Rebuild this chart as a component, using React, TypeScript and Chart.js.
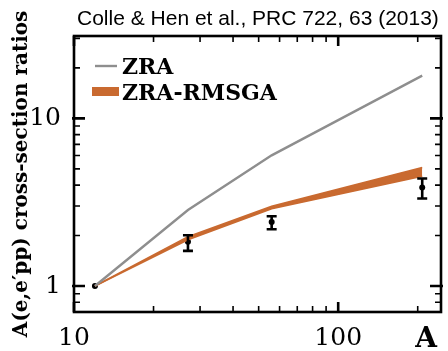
import { useEffect, useRef } from 'react';
import { Chart, registerables } from 'chart.js';

Chart.register(...registerables);

// ---- data ----
const massNumbers = [12, 27, 56, 208];
const zraValues = [1, 2.84, 6.02, 18.0];
const rmsgaLower = [1, 1.89, 2.89, 4.52];
const rmsgaUpper = [1, 1.97, 2.99, 5.09];
const dataValues = [1, 1.84, 2.41, 3.87];
const dataErrLow = [1, 1.62, 2.18, 3.33];
const dataErrHigh = [1, 2.01, 2.61, 4.38];

const xTickValues = [10, 100];
const yTickValues = [1, 10];
const xMinorTicks = [20, 30, 40, 50, 60, 70, 80, 90, 200];
const yMinorTicks = [0.8, 0.9, 2, 3, 4, 5, 6, 7, 8, 9, 20, 30];

const legendLabels = ['ZRA', 'ZRA-RMSGA'];
const titleText = 'Colle & Hen et al., PRC 722, 63 (2013)';
const xTitle = 'A';
const yTitle = 'A(e,e\u2032pp) cross-section ratios';

const GREY = '#8e8e8e';
const ORANGE = '#c96a30';

const pts = (ys: number[]) => massNumbers.map((x, i) => ({ x, y: ys[i] }));

const decorPlugin = {
  id: 'decor',
  afterDatasetsDraw(chart: any) {
    const { ctx, scales } = chart;
    const xs = scales.x;
    const ys = scales.y;
    ctx.save();
    // error bars
    ctx.strokeStyle = '#000';
    ctx.lineWidth = 2.6;
    massNumbers.forEach((a, i) => {
      if (dataErrHigh[i] === dataErrLow[i]) return;
      const px = xs.getPixelForValue(a);
      const yl = ys.getPixelForValue(dataErrLow[i]);
      const yh = ys.getPixelForValue(dataErrHigh[i]);
      ctx.beginPath();
      ctx.moveTo(px, yl);
      ctx.lineTo(px, yh);
      ctx.moveTo(px - 5, yl);
      ctx.lineTo(px + 5, yl);
      ctx.moveTo(px - 5, yh);
      ctx.lineTo(px + 5, yh);
      ctx.stroke();
    });
    ctx.restore();
  },
  afterDraw(chart: any) {
    const { ctx, chartArea, scales } = chart;
    const { left, right, top, bottom } = chartArea;
    const xs = scales.x;
    const ys = scales.y;
    ctx.save();
    ctx.strokeStyle = '#000';
    ctx.lineWidth = 2.6;
    ctx.strokeRect(left, top, right - left, bottom - top);
    // ticks
    const drawX = (v: number, len: number, w: number) => {
      const px = xs.getPixelForValue(v);
      ctx.lineWidth = w;
      ctx.beginPath();
      ctx.moveTo(px, bottom);
      ctx.lineTo(px, bottom - len);
      ctx.moveTo(px, top);
      ctx.lineTo(px, top + len);
      ctx.stroke();
    };
    const drawY = (v: number, len: number, w: number, ext: number) => {
      const py = ys.getPixelForValue(v);
      if (py < top + 1 || py > bottom - 1) return;
      ctx.lineWidth = w;
      ctx.beginPath();
      ctx.moveTo(left - ext, py);
      ctx.lineTo(left + len, py);
      ctx.moveTo(right + ext, py);
      ctx.lineTo(right - len, py);
      ctx.stroke();
    };
    xMinorTicks.forEach((v) => drawX(v, 6, 1.6));
    xTickValues.forEach((v) => drawX(v, 10, 2.6));
    yMinorTicks.forEach((v) => drawY(v, 6, 1.6, 0));
    yTickValues.forEach((v) => drawY(v, 11, 2.6, 2));

    // title
    ctx.fillStyle = '#000';
    ctx.font = '21px "Liberation Sans", Arial, sans-serif';
    ctx.textAlign = 'left';
    ctx.textBaseline = 'alphabetic';
    ctx.fillText(titleText, 77, 25);

    // x axis title
    ctx.font = 'bold 28px "DejaVu Serif", serif';
    ctx.textAlign = 'right';
    ctx.fillText(xTitle, 437, 347);

    // legend
    ctx.font = 'bold 22px "DejaVu Serif", serif';
    ctx.textAlign = 'left';
    ctx.strokeStyle = GREY;
    ctx.lineWidth = 2.4;
    ctx.beginPath();
    ctx.moveTo(95, 66);
    ctx.lineTo(117, 66);
    ctx.stroke();
    ctx.fillText(legendLabels[0], 122, 74);
    ctx.fillStyle = ORANGE;
    ctx.fillRect(92, 87, 27, 9);
    ctx.fillStyle = '#000';
    ctx.fillText(legendLabels[1], 122, 100);
    ctx.restore();
  },
};

export default function App() {
  const ref = useRef<HTMLCanvasElement | null>(null);
  useEffect(() => {
    const canvas = ref.current;
    if (!canvas) return;
    const chart = new Chart(canvas, {
      type: 'line',
      data: {
        datasets: [
          {
            label: legendLabels[0],
            data: pts(zraValues),
            borderColor: GREY,
            borderWidth: 2.4,
            pointRadius: 0,
            fill: false,
            tension: 0,
          },
          {
            label: legendLabels[1] + ' low',
            data: pts(rmsgaLower),
            borderColor: ORANGE,
            backgroundColor: ORANGE,
            borderWidth: 1.6,
            pointRadius: 0,
            fill: false,
            tension: 0,
          },
          {
            label: legendLabels[1],
            data: pts(rmsgaUpper),
            borderColor: ORANGE,
            backgroundColor: ORANGE,
            borderWidth: 1.6,
            pointRadius: 0,
            fill: '-1',
            tension: 0,
          },
          {
            label: 'data',
            data: pts(dataValues),
            showLine: false,
            borderColor: '#000',
            backgroundColor: '#000',
            pointRadius: 3,
            pointBorderWidth: 0,
          },
        ],
      },
      options: {
        animation: false,
        responsive: false,
        devicePixelRatio: 1,
        layout: { padding: { top: 36, right: 7, left: 0, bottom: 0 } },
        plugins: {
          legend: { display: false },
          tooltip: { enabled: false },
          title: { display: false },
        },
        scales: {
          x: {
            type: 'logarithmic',
            min: 10,
            max: 245,
            afterBuildTicks: (s: any) => {
              s.ticks = xTickValues.map((v) => ({ value: v }));
            },
            afterFit: (s: any) => {
              s.height = 39;
            },
            ticks: {
              callback: (v: any) => String(v),
              font: { family: '"DejaVu Serif", serif', size: 25 },
              color: '#000',
              padding: 3,
              maxRotation: 0,
              autoSkip: false,
            },
            grid: { display: false },
            border: { display: false },
          },
          y: {
            type: 'logarithmic',
            min: 0.7,
            max: 31,
            afterBuildTicks: (s: any) => {
              s.ticks = yTickValues.map((v) => ({ value: v }));
            },
            afterFit: (s: any) => {
              s.width = 74;
            },
            ticks: {
              callback: (v: any) => String(v),
              font: { family: '"DejaVu Serif", serif', size: 25 },
              color: '#000',
              padding: 5,
              autoSkip: false,
            },
            grid: { display: false },
            border: { display: false },
            title: {
              display: true,
              text: yTitle,
              color: '#000',
              font: { family: '"DejaVu Serif", serif', size: 20, weight: 'bold' },
              padding: { top: 10, bottom: 0 },
            },
          },
        },
      },
      plugins: [decorPlugin],
    } as any);
    return () => chart.destroy();
  }, []);
  return (
    <div style={{ position: 'absolute', left: 0, top: 0, width: 448, height: 351, background: '#fff' }}>
      <canvas ref={ref} width={448} height={351} />
    </div>
  );
}
